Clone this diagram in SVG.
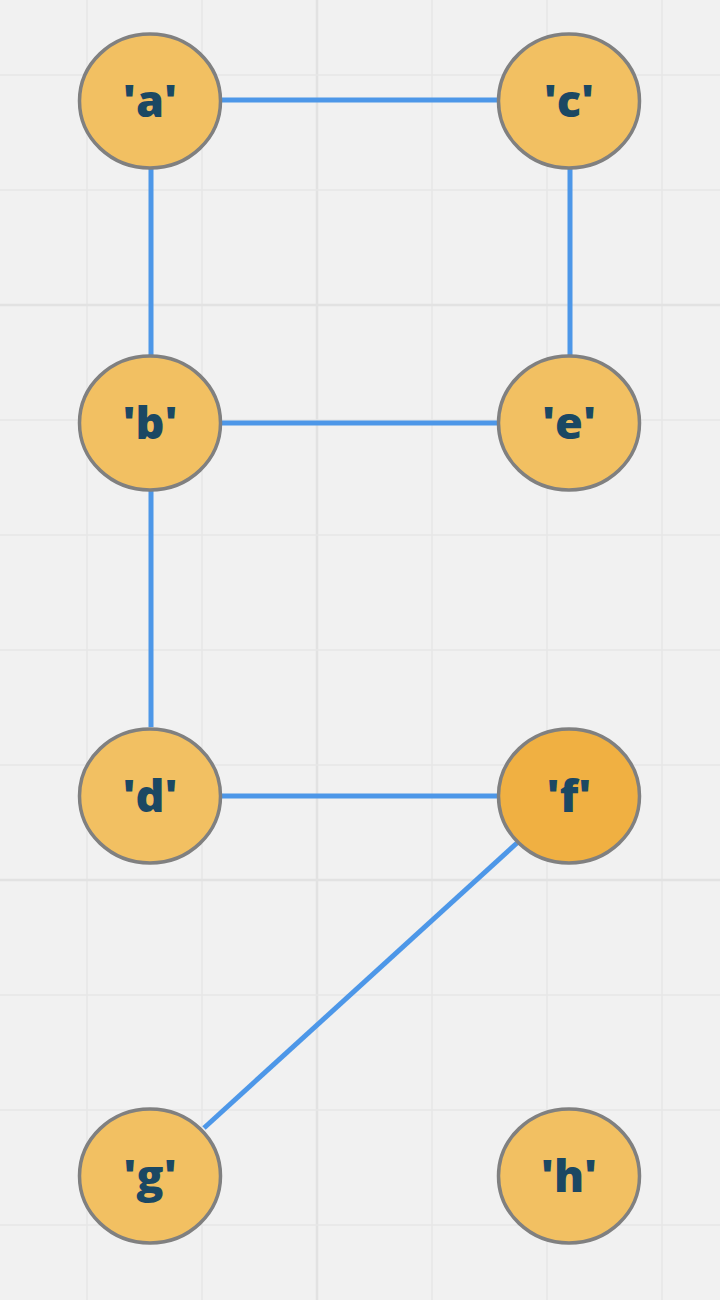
<svg xmlns="http://www.w3.org/2000/svg" width="720" height="1300" viewBox="0 0 720 1300">
<style>
.minor{stroke:#e6e6e6;stroke-width:1.5}
.major{stroke:#e2e2e2;stroke-width:2.5}
.edge{stroke:#4d97e8;stroke-width:5;fill:none}
.node ellipse{fill:#f2c062;stroke:#808080;stroke-width:3.5}
.node.hi ellipse{fill:#f0b042}
.node text{font-family:"Open Sans","DejaVu Sans",sans-serif;font-weight:800;font-size:45px;fill:#1b4863;text-anchor:middle;dominant-baseline:central}
</style>
<rect width="720" height="1300" fill="#f1f1f1"/>
<g id="grid">
<line class="minor" x1="87" y1="0" x2="87" y2="1300"/>
<line class="minor" x1="202" y1="0" x2="202" y2="1300"/>
<line class="major" x1="317" y1="0" x2="317" y2="1300"/>
<line class="minor" x1="432" y1="0" x2="432" y2="1300"/>
<line class="minor" x1="547" y1="0" x2="547" y2="1300"/>
<line class="minor" x1="662" y1="0" x2="662" y2="1300"/>
<line class="minor" x1="0" y1="75" x2="720" y2="75"/>
<line class="minor" x1="0" y1="190" x2="720" y2="190"/>
<line class="major" x1="0" y1="305" x2="720" y2="305"/>
<line class="minor" x1="0" y1="420" x2="720" y2="420"/>
<line class="minor" x1="0" y1="535" x2="720" y2="535"/>
<line class="minor" x1="0" y1="650" x2="720" y2="650"/>
<line class="minor" x1="0" y1="765" x2="720" y2="765"/>
<line class="major" x1="0" y1="880" x2="720" y2="880"/>
<line class="minor" x1="0" y1="995" x2="720" y2="995"/>
<line class="minor" x1="0" y1="1110" x2="720" y2="1110"/>
<line class="minor" x1="0" y1="1225" x2="720" y2="1225"/>
</g>
<g id="connectors">
<line class="edge" x1="222" y1="100" x2="498" y2="100"/>
<line class="edge" x1="151" y1="169" x2="151" y2="355"/>
<line class="edge" x1="570" y1="169" x2="570" y2="355"/>
<line class="edge" x1="222" y1="423" x2="498" y2="423"/>
<line class="edge" x1="151" y1="491" x2="151" y2="727"/>
<line class="edge" x1="222" y1="796" x2="498" y2="796"/>
<line class="edge" x1="517" y1="843" x2="204" y2="1128"/>
</g>
<g id="node-a" class="node"><ellipse cx="150" cy="101" rx="70.5" ry="67"/><text x="150" y="99">'a'</text></g>
<g id="node-c" class="node"><ellipse cx="569" cy="101" rx="70.5" ry="67"/><text x="569" y="99">'c'</text></g>
<g id="node-b" class="node"><ellipse cx="150" cy="423" rx="70.5" ry="67"/><text x="150" y="421">'b'</text></g>
<g id="node-e" class="node"><ellipse cx="569" cy="423" rx="70.5" ry="67"/><text x="569" y="421">'e'</text></g>
<g id="node-d" class="node"><ellipse cx="150" cy="796" rx="70.5" ry="67"/><text x="150" y="794">'d'</text></g>
<g id="node-f" class="node hi"><ellipse cx="569" cy="796" rx="70.5" ry="67"/><text x="569" y="794">'f'</text></g>
<g id="node-g" class="node"><ellipse cx="150" cy="1176" rx="70.5" ry="67"/><text x="150" y="1174">'g'</text></g>
<g id="node-h" class="node"><ellipse cx="569" cy="1176" rx="70.5" ry="67"/><text x="569" y="1174">'h'</text></g>
</svg>
